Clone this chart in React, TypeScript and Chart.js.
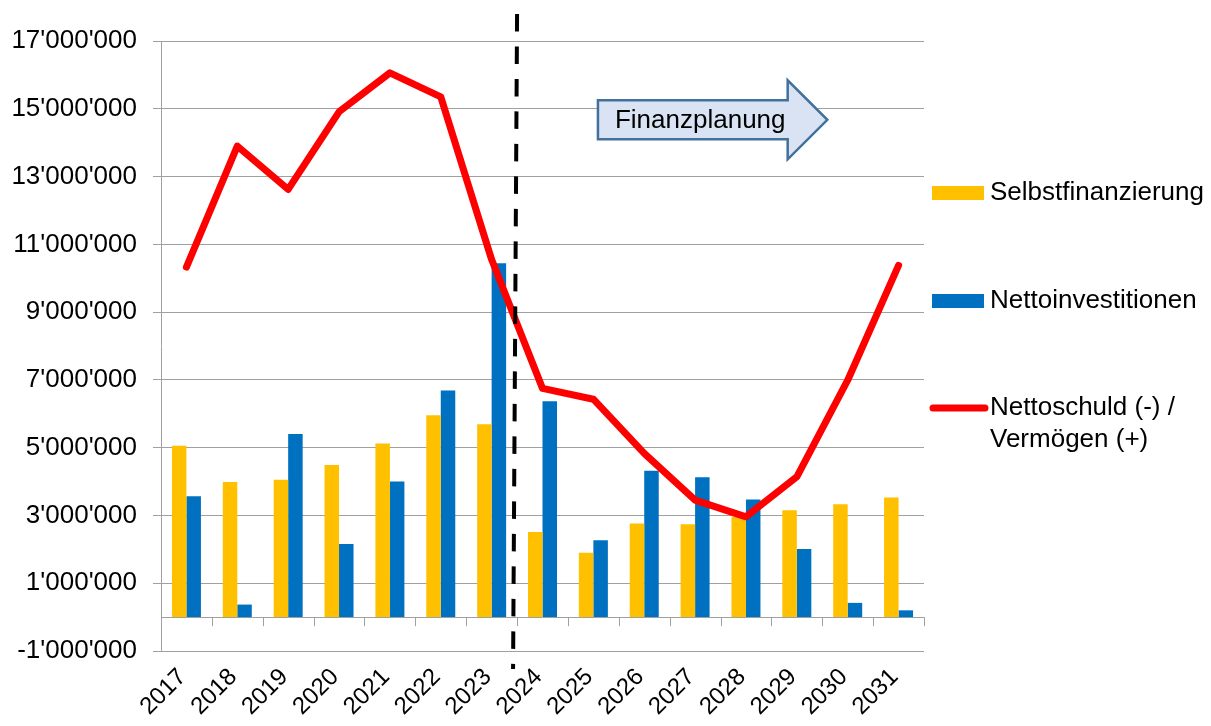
import React, { useEffect, useRef } from "react";
import { Chart, registerables } from "chart.js";

Chart.register(...registerables);

const years = ["2017", "2018", "2019", "2020", "2021", "2022", "2023", "2024", "2025", "2026", "2027", "2028", "2029", "2030", "2031"];
const selbstfinanzierung = [5060000, 3990000, 4050000, 4490000, 5120000, 5960000, 5690000, 2510000, 1900000, 2760000, 2740000, 2960000, 3150000, 3330000, 3530000];
const nettoinvestitionen = [3570000, 370000, 5400000, 2160000, 4000000, 6690000, 10440000, 6370000, 2270000, 4320000, 4130000, 3470000, 2010000, 420000, 200000];
const nettoschuld = [10330000, 13900000, 12620000, 14910000, 16060000, 15350000, 10550000, 6750000, 6430000, 4830000, 3450000, 2960000, 4140000, 6990000, 10380000];
const seriesLabels = [["Selbstfinanzierung"], ["Nettoinvestitionen"], ["Nettoschuld (-) /", "Vermögen (+)"]];
const yMin = -1000000;
const yMax = 17000000;
const yStep = 2000000;
const planningLabel = "Finanzplanung";
const planningStartIndex = 6.5; // boundary between 2023 and 2024

const FONT = "'Liberation Sans', Arial, sans-serif";
const FONT_SIZE = 26;
const GRID = "#a0a0a0";
const YELLOW = "#FFC000";
const BLUE = "#0070C0";
const RED = "#FF0000";

function fmt(v: number): string {
  const s = Math.abs(Math.round(v)).toString().replace(/\B(?=(\d{3})+(?!\d))/g, "'");
  return (v < 0 ? "-" : "") + s;
}

const overlayPlugin = {
  id: "overlay",
  beforeDatasetsDraw(chart: any) {
    const { ctx, chartArea, scales } = chart;
    const x = scales.x;
    const y = scales.y;
    const y0 = y.getPixelForValue(0);
    ctx.save();
    ctx.strokeStyle = GRID;
    ctx.lineWidth = 1;
    ctx.beginPath();
    ctx.moveTo(chartArea.left, Math.round(y0) + 0.5);
    ctx.lineTo(chartArea.right, Math.round(y0) + 0.5);
    for (let i = 0; i <= years.length; i++) {
      const px = Math.round(x.getPixelForValue(i - 0.5)) + 0.5;
      ctx.moveTo(px, y0);
      ctx.lineTo(px, y0 + 9);
    }
    ctx.stroke();
    ctx.restore();
  },
  afterDatasetsDraw(chart: any) {
    const { ctx, scales } = chart;
    const x = scales.x;
    const y = scales.y;
    // dashed divider
    const dx = x.getPixelForValue(planningStartIndex);
    ctx.save();
    ctx.strokeStyle = "#000";
    ctx.lineWidth = 4;
    ctx.setLineDash([17.5, 15]);
    ctx.beginPath();
    ctx.moveTo(dx, y.getPixelForValue(17800000));
    ctx.lineTo(dx - 4, y.getPixelForValue(-1530000));
    ctx.stroke();
    ctx.restore();

    // block arrow
    const left = x.getPixelForValue(8.09);
    const neck = x.getPixelForValue(11.82);
    const tip = x.getPixelForValue(12.6);
    const bTop = y.getPixelForValue(15250000);
    const bBot = y.getPixelForValue(14100000);
    const hTop = y.getPixelForValue(15840000);
    const hBot = y.getPixelForValue(13510000);
    const mid = (bTop + bBot) / 2;
    ctx.save();
    ctx.beginPath();
    ctx.moveTo(left, bTop);
    ctx.lineTo(neck, bTop);
    ctx.lineTo(neck, hTop);
    ctx.lineTo(tip, mid);
    ctx.lineTo(neck, hBot);
    ctx.lineTo(neck, bBot);
    ctx.lineTo(left, bBot);
    ctx.closePath();
    ctx.fillStyle = "#DAE3F3";
    ctx.fill();
    ctx.strokeStyle = "#41719C";
    ctx.lineWidth = 2.5;
    ctx.stroke();
    ctx.fillStyle = "#000";
    ctx.font = `${FONT_SIZE}px ${FONT}`;
    ctx.textBaseline = "middle";
    ctx.textAlign = "left";
    ctx.fillText(planningLabel, left + 17, mid + 1);
    ctx.restore();
  },
  afterDraw(chart: any) {
    const { ctx, chartArea } = chart;
    const lx = chartArea.right + 8;
    const tx = lx + 58;
    const centers = [193, 301, 408];
    ctx.save();
    ctx.font = `${FONT_SIZE}px ${FONT}`;
    ctx.textBaseline = "middle";
    ctx.textAlign = "left";
    chart.data.datasets.forEach((ds: any, i: number) => {
      const cy = centers[i];
      if (ds.type === "line") {
        ctx.strokeStyle = ds.borderColor;
        ctx.lineWidth = 7;
        ctx.lineCap = "round";
        ctx.beginPath();
        ctx.moveTo(lx + 1, cy);
        ctx.lineTo(lx + 53, cy);
        ctx.stroke();
      } else {
        ctx.fillStyle = ds.backgroundColor;
        ctx.fillRect(lx, cy - 7, 52, 14);
      }
      ctx.fillStyle = "#000";
      seriesLabels[i].forEach((t, j) => ctx.fillText(t, tx, cy + j * 32));
    });
    ctx.restore();
  },
};

export default function App() {
  const ref = useRef<HTMLCanvasElement | null>(null);
  useEffect(() => {
    if (!ref.current) return;
    const chart = new Chart(ref.current, {
      type: "bar",
      data: {
        labels: years,
        datasets: [
          { type: "bar", label: seriesLabels[0].join(" "), data: selbstfinanzierung, backgroundColor: YELLOW, categoryPercentage: 0.57, barPercentage: 1, order: 2 },
          { type: "bar", label: seriesLabels[1].join(" "), data: nettoinvestitionen, backgroundColor: BLUE, categoryPercentage: 0.57, barPercentage: 1, order: 2 },
          { type: "line", label: seriesLabels[2].join(" "), data: nettoschuld, borderColor: RED, backgroundColor: RED, borderWidth: 7, pointRadius: 0, borderJoinStyle: "round", borderCapStyle: "round", tension: 0, order: 1 } as any,
        ],
      },
      options: {
        responsive: false,
        animation: false,
        devicePixelRatio: 1,
        layout: { padding: { left: 0, right: 287, top: 41, bottom: 0 } },
        plugins: { legend: { display: false }, tooltip: { enabled: false }, title: { display: false } },
        scales: {
          x: {
            offset: true,
            grid: { display: false, drawTicks: false },
            border: { display: false },
            ticks: { autoSkip: false, minRotation: 45, maxRotation: 45, color: "#000", font: { family: FONT, size: 24 }, padding: 12, labelOffset: -4 },
            afterFit: (s: any) => { s.height = 75; },
          },
          y: {
            min: yMin,
            max: yMax,
            grid: { color: GRID, lineWidth: 1, tickLength: 8 },
            border: { display: true, color: GRID },
            ticks: { stepSize: yStep, color: "#000", font: { family: FONT, size: FONT_SIZE }, padding: 16, callback: (v: any) => fmt(Number(v)) },
            afterFit: (s: any) => { s.width = 161; },
          },
        },
      },
      plugins: [overlayPlugin],
    });
    return () => chart.destroy();
  }, []);
  return (
    <div style={{ position: "absolute", left: 0, top: 0, width: 1211, height: 726, background: "#fff" }}>
      <canvas ref={ref} width={1211} height={726} style={{ display: "block" }} />
    </div>
  );
}
